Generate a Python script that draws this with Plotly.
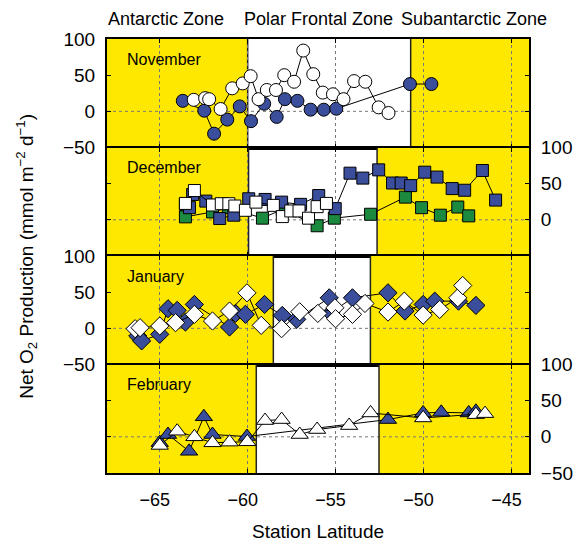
import plotly.graph_objects as go

# ---------------- data ----------------
months = ["November", "December", "January", "February"]
zone_names = ["Antarctic Zone", "Polar Frontal Zone", "Subantarctic Zone"]

# Polar Frontal Zone boundaries (latitude) per month
pfz_north = [-50.73, -52.64, -53.02, -52.53]
pfz_south = [-60.0, -59.95, -58.54, -59.51]

# November (circles)
nov_blue_lat = [-63.69, -62.47, -61.91, -61.16, -60.45, -59.81, -59.06, -58.35, -57.88, -57.17,
                -56.42, -55.67, -54.96, -50.77, -49.55]
nov_blue_val = [14.5, 0.9, -30.9, -11.4, 6.8, -13.6, 10.5, -7.7, 16.8, 14.5, 2.3, 2.3, 3.6, 37.7, 37.7]
nov_white_lat = [-63.07, -62.42, -62.19, -61.54, -60.88, -60.28, -59.83, -59.38, -58.91, -58.39,
                 -57.92, -57.36, -56.84, -56.27, -55.73, -55.15, -54.55, -53.95, -53.31, -52.55, -51.99]
nov_white_val = [15.9, 18.2, 16.8, 3.2, 31.8, 38.6, 48.6, 16.8, 29.5, 29.5, 50, 40.9, 84, 51.4,
                 25.9, 23.6, 16.8, 41.8, 40.9, 5.5, -2.3]

# December (squares)
dec_blue_lat = [-63.54, -63.31, -63.13, -62.38, -61.59, -60.79, -59.94, -59.01, -58.07, -56.99,
                -55.96, -55.02, -54.18, -53.45, -52.55, -51.76, -51.27, -50.73, -49.93, -49.23,
                -48.37, -47.66, -46.65, -45.90]
dec_blue_val = [21.4, 16.8, 35.0, 25.9, 1.8, 6.4, 29.1, 28.2, 24.5, 21.4, 33.6, 15.5, 64.5, 57.7,
                69.1, 50.9, 50.9, 47.3, 65.9, 59.1, 43.2, 40.9, 68.2, 27.3]
dec_green_lat = [-63.54, -62.00, -61.10, -59.16, -58.03, -56.05, -55.07, -53.01, -51.03, -50.11,
                 -49.04, -48.05, -47.43]
dec_green_val = [4.1, 10.9, 16.8, 2.3, 14.5, -8.2, 2.3, 7.7, 31.4, 16.8, 6.4, 17.7, 5.5]
dec_white_lat = [-63.54, -63.03, -62.00, -61.50, -61.07, -60.73, -60.13, -59.53, -58.54, -58.03,
                 -57.55, -57.08, -56.54, -56.05, -55.52]
dec_white_val = [22.7, 40.5, 20.5, 22.3, 22.3, 19.1, 13.2, 24.5, 20.0, 4.5, 12.3, 12.3, 2.3, 18.2, 22.7]

# January (diamonds)
jan_blue_lat = [-66.25, -66.03, -65.00, -64.53, -64.01, -63.54, -63.03, -61.03, -60.69, -60.13,
                -59.04, -58.03, -57.21, -55.36, -55.26, -54.04, -52.02, -51.05, -50.02, -49.36,
                -48.01, -47.02]
jan_blue_val = [-10.6, -17.4, -8.3, 27.1, 24.8, 8.7, 33.0, 1.8, 20.6, 19.3, 33.0, 17.9, 12.4, 42.2,
                21.4, 42.2, 49.1, 23.9, 33.0, 37.6, 37.6, 31.7]
jan_white_lat = [-66.40, -66.12, -65.00, -64.10, -63.03, -62.00, -61.03, -60.04, -59.23, -58.07,
                 -57.04, -56.01, -55.04, -55.00, -54.04, -53.33, -52.02, -51.09, -50.02, -49.08,
                 -48.05, -47.77]
jan_white_val = [-0.5, 0.9, 3.2, 7.8, 19.3, 10.1, 23.9, 49.1, 4.1, -0.5, 22.9, 20.6, 28.4, 13.3,
                 19.3, 34.4, 22.5, 37.6, 18.3, 26.1, 42.2, 59.2]

# February (triangles)
feb_blue_lat = [-65.00, -64.53, -63.33, -62.49, -62.00, -60.04, -52.02, -50.02, -48.99, -47.43, -47.02]
feb_blue_val = [-8.0, 3.2, -20.0, 27.7, 3.2, 0.4, 23.9, 33.0, 33.9, 33.0, 35.3]
feb_white_lat = [-65.00, -64.01, -63.03, -62.00, -61.03, -60.02, -59.01, -58.07, -57.04, -56.05,
                 -54.23, -53.01, -50.02, -47.02, -46.50]
feb_white_val = [-11.9, 7.8, 0.0, -8.3, -7.3, -6.9, 22.5, 23.9, 3.2, 10.1, 15.6, 33.0, 26.1, 30.7, 32.1]

# ---------------- styles ----------------
YELLOW = "#FFE800"
BLUE = "#3A4E9B"
GREEN = "#1C8A3E"
WHITE = "#FFFFFF"
FONT = "Liberation Sans, Arial, Helvetica, sans-serif"
XMIN, XMAX = -68, -44
YMIN, YMAX = -50, 100

panels = [
    [(nov_blue_lat, nov_blue_val, BLUE), (nov_white_lat, nov_white_val, WHITE)],
    [(dec_green_lat, dec_green_val, GREEN), (dec_blue_lat, dec_blue_val, BLUE),
     (dec_white_lat, dec_white_val, WHITE)],
    [(jan_blue_lat, jan_blue_val, BLUE), (jan_white_lat, jan_white_val, WHITE)],
    [(feb_blue_lat, feb_blue_val, BLUE), (feb_white_lat, feb_white_val, WHITE)],
]
symbols = ["circle", "square", "diamond", "triangle-up"]
sizes = [13, 12, 14, 15]
domains = [[0.75, 1.0], [0.5, 0.75], [0.25, 0.5], [0.0, 0.25]]
sides = ["left", "right", "left", "right"]
ytexts = [["−50", "0", "50", "100"], ["", "0", "50", "100"],
          ["−50", "0", "50", "100"], ["−50", "0", "50", "100"]]

fig = go.Figure()
shapes = []
annotations = []

for i in range(4):
    k = "" if i == 0 else str(i + 1)
    xr, yr = "x" + k, "y" + k
    for lat, val, col in panels[i]:
        pts = sorted(zip(lat, val))
        fig.add_trace(go.Scatter(
            x=[p[0] for p in pts], y=[p[1] for p in pts], xaxis=xr, yaxis=yr,
            mode="lines+markers",
            line=dict(color="black", width=1),
            marker=dict(symbol=symbols[i], size=sizes[i], color=col,
                        line=dict(color="black", width=1)),
            showlegend=False, cliponaxis=False))
    # zone background
    shapes.append(dict(type="rect", xref=xr, yref=yr, x0=XMIN, x1=pfz_south[i], y0=YMIN, y1=YMAX,
                       fillcolor=YELLOW, line=dict(width=0), layer="below"))
    shapes.append(dict(type="rect", xref=xr, yref=yr, x0=pfz_north[i], x1=XMAX, y0=YMIN, y1=YMAX,
                       fillcolor=YELLOW, line=dict(width=0), layer="below"))
    shapes.append(dict(type="line", xref=xr, yref=yr, x0=XMIN, x1=XMAX, y0=0, y1=0,
                       line=dict(color="#777777", width=1, dash="dot"), layer="below"))
    for b in (pfz_south[i], pfz_north[i]):
        shapes.append(dict(type="line", xref=xr, yref=yr, x0=b, x1=b, y0=YMIN, y1=YMAX,
                           line=dict(color="#222222", width=1.5), layer="below"))
    annotations.append(dict(text=months[i], xref=xr, yref=yr, x=-67.0, y=72,
                            xanchor="left", yanchor="middle", showarrow=False,
                            font=dict(size=16, color="black", family=FONT)))

    fig.layout["xaxis" + k] = dict(
        range=[XMIN, XMAX], anchor=yr, domain=[0, 1],
        tickvals=[-65, -60, -55, -50, -45], ticktext=["−65", "−60", "−55", "−50", "−45"],
        showticklabels=(i == 3), ticks="inside", ticklen=4, tickcolor="black",
        showline=True, linecolor="black", linewidth=2, mirror="ticks",
        showgrid=True, gridcolor="#777777", gridwidth=1, griddash="dot", zeroline=False,
        tickfont=dict(size=18, color="black", family=FONT),
        ticklabelstandoff=9, ticklabelshift=-5,
        **({} if i == 0 else {"matches": "x"}))
    fig.layout["yaxis" + k] = dict(
        range=[YMIN, YMAX], domain=domains[i], anchor=xr, side=sides[i],
        tickvals=[-50, 0, 50, 100], ticktext=ytexts[i],
        ticks="inside", ticklen=4, tickcolor="black",
        showline=True, linecolor="black", linewidth=2, mirror="ticks",
        showgrid=False, zeroline=False,
        tickfont=dict(size=19, color="black", family=FONT),
        ticklabelstandoff=6)

zone_x = [-64.65, -55.97, -47.13]
for name, zx in zip(zone_names, zone_x):
    annotations.append(dict(text=name, xref="x", yref="paper", x=zx, y=1.0456,
                            xanchor="center", yanchor="middle", showarrow=False,
                            font=dict(size=18, color="black", family=FONT)))

annotations.append(dict(text="Station Latitude", xref="paper", yref="paper", x=0.5, y=-0.134,
                        xanchor="center", yanchor="middle", showarrow=False,
                        font=dict(size=19, color="black", family=FONT)))
annotations.append(dict(text="Net O<sub>2</sub> Production (mmol m<sup>−2</sup> d<sup>−1</sup>)",
                        xref="paper", yref="paper", x=-0.1925, y=0.5, textangle=-90,
                        xanchor="center", yanchor="middle", showarrow=False,
                        font=dict(size=19, color="black", family=FONT)))

# page body has an 8px margin: shrink the figure so the plot area lands where the reference has it
fig.update_layout(
    width=577, height=534,
    margin=dict(l=99, r=52, t=31, b=69),
    paper_bgcolor="white", plot_bgcolor="white",
    shapes=shapes, annotations=annotations,
    font=dict(family=FONT, color="black"),
    showlegend=False,
)

fig.write_html("out.html")
